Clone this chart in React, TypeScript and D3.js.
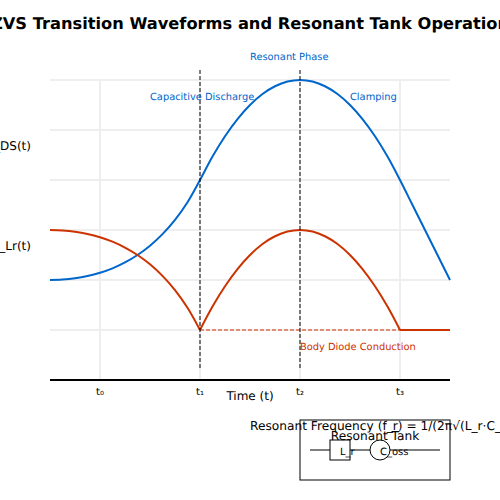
import * as d3 from 'd3'

const font = '"DejaVu Sans", sans-serif'
const blue = '#0066cc'
const red = '#cc3300'

const tickTimes = [0, 1, 2, 3]
const tickLabels = ['t₀', 't₁', 't₂', 't₃']
const gridLevels = [0, 1, 2, 3, 4, 5]

// normalised waveforms, every eighth of a period
const vdsTime = [
  -0.5, -0.375, -0.25, -0.125, 0, 0.125, 0.25, 0.375, 0.5, 0.625, 0.75, 0.875, 1,
  1.125, 1.25, 1.375, 1.5, 1.625, 1.75, 1.875, 2,
  2.125, 2.25, 2.375, 2.5, 2.625, 2.75, 2.875, 3,
  3.125, 3.25, 3.375, 3.5,
]
const vdsValue = [
  1, 1.008, 1.033, 1.078, 1.144, 1.233, 1.351, 1.5, 1.686, 1.917, 2.202, 2.556, 3,
  3.469, 3.875, 4.219, 4.5, 4.719, 4.875, 4.969, 5,
  4.969, 4.875, 4.719, 4.5, 4.219, 3.875, 3.469, 3,
  2.5, 2, 1.5, 1,
]

const ilrFallTime = [-0.5, -0.375, -0.25, -0.125, 0, 0.125, 0.25, 0.375, 0.5, 0.625, 0.75, 0.875, 1]
const ilrFallValue = [2, 1.992, 1.967, 1.922, 1.856, 1.767, 1.649, 1.5, 1.314, 1.083, 0.798, 0.444, 0]
const ilrPulseTime = [1, 1.125, 1.25, 1.375, 1.5, 1.625, 1.75, 1.875, 2, 2.125, 2.25, 2.375, 2.5, 2.625, 2.75, 2.875, 3]
const ilrPulseValue = [0, 0.469, 0.875, 1.219, 1.5, 1.719, 1.875, 1.969, 2, 1.969, 1.875, 1.719, 1.5, 1.219, 0.875, 0.469, 0]
const ilrFlatTime = [3, 3.5]
const ilrFlatValue = [0, 0]

const x = d3.scaleLinear().domain([-0.5, 3.5]).range([50, 450])
const y = d3.scaleLinear().domain([-1, 5]).range([380, 80])

function path(times: number[], values: number[]) {
  const line = d3.line<number>()
    .x((t) => x(t))
    .y((_, i) => y(values[i]))
    .curve(d3.curveCatmullRom)
  return line(times) ?? ''
}

export default function App() {
  return (
    <svg
      width={500}
      height={500}
      textRendering="geometricPrecision"
      style={{ position: 'absolute', left: 0, top: 0, fontFamily: font }}
    >
      <text x={250} y={29} textAnchor="middle" fontSize={16.25} fontWeight="bold">
        ZVS Transition Waveforms and Resonant Tank Operation
      </text>

      {gridLevels.map((v) => (
        <line key={v} x1={50} x2={450} y1={y(v)} y2={y(v)} stroke="#eeeeee" strokeWidth={2} />
      ))}
      {tickTimes.map((t) => (
        <line key={t} x1={x(t)} x2={x(t)} y1={80} y2={380} stroke="#eeeeee" strokeWidth={2} />
      ))}

      <line x1={50} x2={450} y1={380} y2={380} stroke="#000" strokeWidth={2} />
      {tickTimes.map((t, i) => (
        <text key={t} x={x(t)} y={395} textAnchor="middle" fontSize={10}>
          {tickLabels[i]}
        </text>
      ))}
      <text x={250} y={400} textAnchor="middle" fontSize={12}>Time (t)</text>
      <text x={31} y={150} textAnchor="end" fontSize={12}>V_DS(t)</text>
      <text x={31} y={250} textAnchor="end" fontSize={12}>I_Lr(t)</text>

      <path d={path(vdsTime, vdsValue)} fill="none" stroke={blue} strokeWidth={2} />
      <path d={path(ilrFallTime, ilrFallValue)} fill="none" stroke={red} strokeWidth={2} />
      <path d={path(ilrPulseTime, ilrPulseValue)} fill="none" stroke={red} strokeWidth={2} />
      <path d={path(ilrFlatTime, ilrFlatValue)} fill="none" stroke={red} strokeWidth={2} />

      <line x1={x(1)} x2={x(3)} y1={y(0)} y2={y(0)} stroke={red} strokeDasharray="4 2" />
      {[1, 2].map((t) => (
        <line key={t} x1={x(t)} x2={x(t)} y1={70} y2={370} stroke="#000" strokeDasharray="4 2" />
      ))}

      <g fontSize={9.85} fill={blue}>
        <text x={250} y={60}>Resonant Phase</text>
        <text x={150} y={100}>Capacitive Discharge</text>
        <text x={350} y={100}>Clamping</text>
      </g>
      <text x={300} y={350} fontSize={9.85} fill={red}>Body Diode Conduction</text>

      <text x={250} y={430} fontSize={12.2}>Resonant Frequency (f_r) = 1/(2π√(L_r·C_oss))</text>

      <rect x={300} y={420} width={150} height={60} fill="none" stroke="#000" />
      <text x={375} y={440} textAnchor="middle" fontSize={12.2}>Resonant Tank</text>
      <line x1={310} x2={330} y1={450} y2={450} stroke="#000" />
      <rect x={330} y={440} width={20} height={20} fill="none" stroke="#000" />
      <line x1={350} x2={370} y1={450} y2={450} stroke="#000" />
      <circle cx={380} cy={450} r={10} fill="none" stroke="#000" />
      <line x1={390} x2={440} y1={450} y2={450} stroke="#000" />
      <text x={340} y={455} fontSize={10}>L_r</text>
      <text x={380} y={455} fontSize={10}>C_oss</text>
    </svg>
  )
}
